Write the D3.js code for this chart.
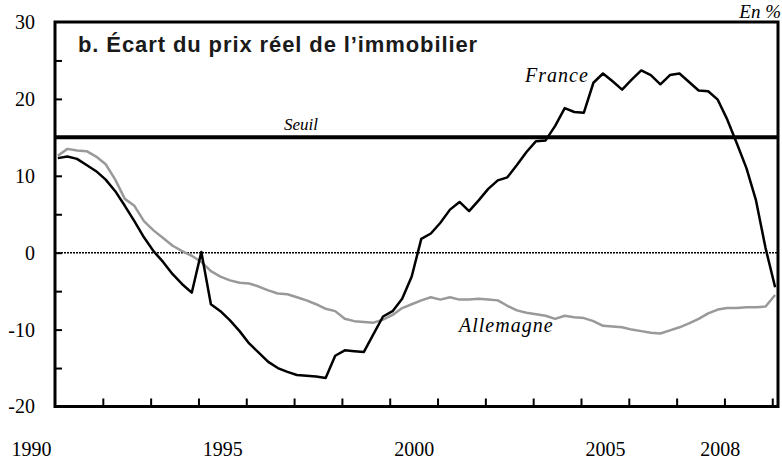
<!DOCTYPE html>
<html lang="fr">
    <head>
        <meta charset="utf-8">
        <title>Écart du prix réel de l'immobilier</title>
        <style>
            body { margin: 0; background: #fff; }
            svg { display: block; }
        </style>
    </head>
    <body>
        <section id="chart"></section>
        <script src="https://d3js.org/d3.v7.min.js"></script>
        <script>
            // quarterly series, 1990T4 .. 2009T3 (76 points)
            const france = [
                12.3, 12.5, 12.2, 11.4, 10.6, 9.5, 8.0, 6.1, 4.1, 2.0,
                0.2, -1.2, -2.8, -4.1, -5.2, 0.1, -6.7, -7.6, -8.8, -10.2,
                -11.8, -13.0, -14.2, -15.0, -15.5, -15.9, -16.0, -16.1, -16.3, -13.4,
                -12.7, -12.8, -12.9, -10.6, -8.3, -7.6, -6.0, -3.1, 1.8, 2.5,
                3.9, 5.6, 6.6, 5.4, 6.8, 8.3, 9.4, 9.8, 11.4, 13.1,
                14.5, 14.6, 16.5, 18.8, 18.3, 18.2, 22.1, 23.3, 22.3, 21.2,
                22.5, 23.7, 23.1, 21.9, 23.1, 23.3, 22.2, 21.1, 21.0, 19.9,
                17.3, 14.2, 11.0, 6.8, 0.6, -4.5
            ];
            const allemagne = [
                12.6, 13.5, 13.3, 13.2, 12.5, 11.5, 9.5, 7.0, 6.1, 4.1,
                2.9, 1.9, 0.9, 0.2, -0.4, -1.2, -2.4, -3.1, -3.6, -3.9,
                -4.0, -4.4, -4.9, -5.3, -5.4, -5.8, -6.2, -6.7, -7.3, -7.6,
                -8.6, -8.9, -9.0, -9.1, -8.7, -8.1, -7.2, -6.7, -6.2, -5.8,
                -6.1, -5.8, -6.1, -6.1, -6.0, -6.1, -6.2, -6.9, -7.5, -7.8,
                -8.0, -8.2, -8.6, -8.2, -8.4, -8.5, -8.9, -9.5, -9.6, -9.7,
                -10.0, -10.2, -10.4, -10.5, -10.1, -9.7, -9.2, -8.6, -7.9, -7.4,
                -7.2, -7.2, -7.1, -7.1, -7.0, -5.5
            ];
            const seuil = 15;
            const yearLabels = [1990, 1995, 2000, 2005, 2008];
            const yLabels = [-20, -10, 0, 10, 20, 30];

            const firstQuarter = 1990.7;
            const quarters = d3.range(france.length).map(i => firstQuarter + i / 4);

            const W = 782, H = 460;
            const mLeft = 55, mRight = 778, mTop = 22, mBottom = 406.5;
            const serif = "Liberation Serif";
            const sans = "Liberation Sans";

            const svg = d3.select("#chart").append("svg")
                .attr("width", W)
                .attr("height", H);

            const x = d3.scaleLinear().domain([1990.625, 2009.525]).range([mLeft, mRight]);
            const y = d3.scaleLinear().domain([-20, 30]).range([mBottom, mTop]);

            // y axis: labels outside, short ticks inside
            svg.append("g")
                .attr("transform", `translate(${mLeft},0)`)
                .call(d3.axisLeft(y).tickValues(yLabels).tickSize(0).tickPadding(20).tickFormat(d => String(d)))
                .call(g => g.select(".domain").remove())
                .call(g => g.selectAll("text")
                    .style("font-family", serif)
                    .style("font-size", "20px")
                    .attr("fill", "#000"));
            svg.append("g")
                .attr("transform", `translate(${mLeft},0)`)
                .call(d3.axisRight(y).tickValues(d3.range(-15, 30, 5)).tickSize(7).tickFormat(""))
                .call(g => g.select(".domain").remove())
                .call(g => g.selectAll("line").attr("stroke", "#000").attr("stroke-width", 2));

            // x axis: year labels below, ticks every 5 quarters
            svg.append("g")
                .attr("transform", `translate(0,${mBottom})`)
                .call(d3.axisBottom(x).tickValues(yearLabels).tickSize(0).tickPadding(35).tickFormat(d => String(d)))
                .call(g => g.select(".domain").remove())
                .call(g => g.selectAll("text")
                    .style("font-family", serif)
                    .style("font-size", "20px")
                    .attr("fill", "#000"));
            svg.append("g")
                .attr("transform", `translate(0,${mBottom})`)
                .call(d3.axisTop(x).tickValues(d3.range(1, 16).map(k => 1990.625 + k * 1.25)).tickSize(8).tickFormat(""))
                .call(g => g.select(".domain").remove())
                .call(g => g.selectAll("line").attr("stroke", "#000").attr("stroke-width", 2));

            // zero line
            svg.append("line")
                .attr("x1", mLeft).attr("x2", mRight)
                .attr("y1", y(0)).attr("y2", y(0))
                .attr("stroke", "#000")
                .attr("stroke-width", 1.5)
                .attr("stroke-dasharray", "2,1");

            // threshold
            svg.append("line")
                .attr("x1", mLeft).attr("x2", mRight)
                .attr("y1", y(seuil)).attr("y2", y(seuil))
                .attr("stroke", "#000")
                .attr("stroke-width", 4);

            const line = d3.line()
                .x((d, i) => x(quarters[i]))
                .y(d => y(d));

            svg.append("path")
                .datum(allemagne)
                .attr("d", line)
                .attr("fill", "none")
                .attr("stroke", "#999")
                .attr("stroke-width", 2.5)
                .attr("stroke-linejoin", "round");

            svg.append("path")
                .datum(france)
                .attr("d", line)
                .attr("fill", "none")
                .attr("stroke", "#000")
                .attr("stroke-width", 2.5)
                .attr("stroke-linejoin", "round");

            // frame
            svg.append("rect")
                .attr("x", mLeft).attr("y", mTop)
                .attr("width", mRight - mLeft).attr("height", mBottom - mTop)
                .attr("fill", "none")
                .attr("stroke", "#000")
                .attr("stroke-width", 3);

            // texts
            svg.append("text")
                .attr("x", 78).attr("y", 52)
                .style("font-family", sans)
                .style("font-weight", "bold")
                .style("font-size", "22px")
                .style("letter-spacing", "0.9px")
                .attr("fill", "#1a1a1a")
                .text("b. Écart du prix réel de l’immobilier");

            svg.append("text")
                .attr("x", 301).attr("y", 130)
                .attr("text-anchor", "middle")
                .style("font-family", serif)
                .style("font-style", "italic")
                .style("font-size", "17px")
                .text("Seuil");

            svg.append("text")
                .attr("x", 525).attr("y", 82)
                .style("font-family", serif)
                .style("font-style", "italic")
                .style("font-size", "20px")
                .style("letter-spacing", "1px")
                .text("France");

            svg.append("text")
                .attr("x", 459).attr("y", 332)
                .style("font-family", serif)
                .style("font-style", "italic")
                .style("font-size", "20px")
                .style("letter-spacing", "1px")
                .text("Allemagne");

            svg.append("text")
                .attr("x", 781).attr("y", 18)
                .attr("text-anchor", "end")
                .style("font-family", serif)
                .style("font-style", "italic")
                .style("font-size", "19px")
                .text("En %");
        </script>
    </body>
</html>
